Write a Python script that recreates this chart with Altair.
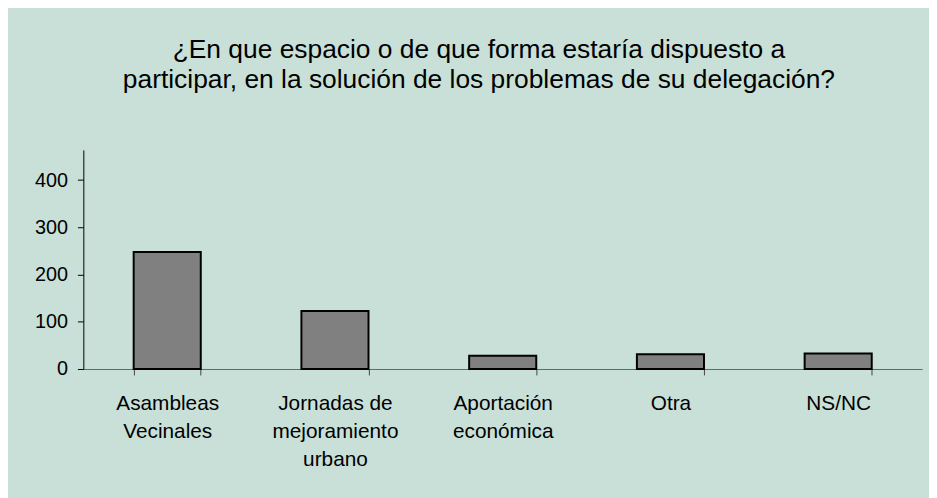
import altair as alt
import pandas as pd

categories = [
    "Asambleas\nVecinales",
    "Jornadas de\nmejoramiento\nurbano",
    "Aportación\neconómica",
    "Otra",
    "NS/NC",
]
values = [248, 123, 28, 31, 33]
y_ticks = [0, 100, 200, 300, 400]
title_lines = [
    "¿En que espacio o de que forma estaría dispuesto a",
    "participar, en la solución de los problemas de su delegación?",
]

df = pd.DataFrame({"categoria": categories, "valor": values})

FONT = "Liberation Sans"
BG = "#C8E0D8"

chart = (
    alt.Chart(
        df,
        title=alt.Title(
            title_lines,
            fontSize=26.6,
            font=FONT,
            fontWeight="normal",
            color="black",
            anchor="middle",
            lineHeight=30,
            dx=-24,
            offset=57,
        ),
    )
    .mark_bar(fill="#808080", stroke="black", strokeWidth=2)
    .encode(
        x=alt.X(
            "categoria:N",
            sort=categories,
            title=None,
            scale=alt.Scale(paddingInner=0.6, paddingOuter=0.3),
            axis=alt.Axis(
                labelAngle=0,
                tickBand="extent",
                tickSize=6,
                labelPadding=18,
                labelExpr="split(datum.label, '\\n')",
                labelFont=FONT,
                labelFontSize=21,
                labelColor="black",
                labelLineHeight=28,
                labelLimit=400,
                domainColor="#666666",
                tickColor="#444444",
                grid=False,
            ),
        ),
        y=alt.Y(
            "valor:Q",
            title=None,
            scale=alt.Scale(domain=[0, 464], nice=False),
            axis=alt.Axis(
                values=y_ticks,
                grid=False,
                tickSize=6,
                labelPadding=10,
                labelFont=FONT,
                labelFontSize=20,
                labelColor="black",
                domainColor="black",
                tickColor="black",
            ),
        ),
    )
    .properties(
        width=846,
        height=221,
        background=BG,
        padding={"left": 76, "top": 141, "right": 7, "bottom": 128},
        autosize="none",
    )
    .configure_view(strokeWidth=0)
)

chart.save("out.html", embed_options={"renderer": "svg", "actions": False})
